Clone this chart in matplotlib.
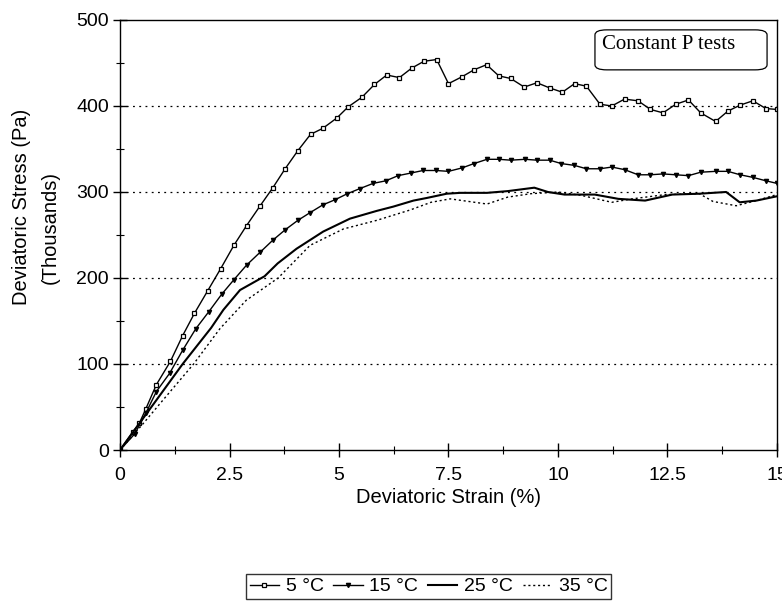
import matplotlib
matplotlib.use("Agg")
import matplotlib.pyplot as plt
from matplotlib.patches import FancyBboxPatch
from matplotlib.ticker import MultipleLocator, FuncFormatter

# deviatoric strain (%) / deviatoric stress (thousands Pa)
strain_5 = [0, 0.29, 0.44, 0.59, 0.83, 1.15, 1.43, 1.70, 2.0, 2.3, 2.6, 2.89, 3.2, 3.49,
            3.77, 4.06, 4.35, 4.63, 4.95, 5.21, 5.52, 5.81, 6.09, 6.38, 6.66, 6.94, 7.23,
            7.50, 7.81, 8.08, 8.37, 8.65, 8.92, 9.23, 9.52, 9.81, 10.10, 10.38, 10.65,
            10.96, 11.23, 11.52, 11.83, 12.11, 12.40, 12.69, 12.98, 13.26, 13.60, 13.88,
            14.16, 14.45, 14.75, 15.0]
stress_5 = [0, 21, 31, 48, 76, 103, 133, 159, 185, 211, 238, 261, 284, 305,
            327, 348, 367, 374, 386, 399, 410, 425, 436, 433, 444, 452, 454,
            426, 434, 442, 448, 435, 432, 422, 427, 421, 416, 426, 423,
            402, 400, 408, 406, 396, 392, 402, 407, 392, 382, 394,
            401, 406, 397, 396]

strain_15 = [0, 0.34, 0.59, 0.83, 1.13, 1.43, 1.73, 2.03, 2.32, 2.60, 2.89, 3.2, 3.49,
             3.77, 4.06, 4.34, 4.63, 4.91, 5.19, 5.48, 5.78, 6.07, 6.35, 6.64, 6.92, 7.21,
             7.50, 7.81, 8.08, 8.38, 8.65, 8.92, 9.25, 9.52, 9.81, 10.08, 10.37, 10.65,
             10.96, 11.23, 11.52, 11.83, 12.11, 12.40, 12.69, 12.98, 13.26, 13.60, 13.88,
             14.16, 14.45, 14.75, 15.0]
stress_15 = [0, 19, 43, 68, 89, 116, 141, 161, 181, 198, 215, 230, 244,
             256, 267, 276, 285, 291, 298, 304, 310, 313, 319, 322, 325, 325,
             324, 328, 333, 338, 338, 337, 338, 337, 337, 333, 331, 327,
             327, 329, 326, 320, 320, 321, 320, 319, 323, 324, 324,
             320, 317, 313, 310]

strain_25 = [0, 0.4, 0.83, 1.43, 2.08, 2.36, 2.74, 3.3, 3.6, 4.03, 4.64, 5.25, 5.86, 6.24,
             6.70, 7.0, 7.46, 7.77, 8.38, 8.85, 9.46, 9.77, 10.15, 10.84, 11.38, 11.99,
             12.61, 13.23, 13.84, 14.15, 14.53, 15.0]
stress_25 = [0, 28, 58, 100, 142, 163, 186, 202, 217, 234, 254, 269, 278, 283,
             290, 293, 298, 299, 299, 301, 305, 300, 297, 297, 292, 290,
             297, 298, 300, 288, 290, 295]

strain_35 = [0, 0.5, 0.98, 1.68, 2.28, 2.88, 3.61, 4.34, 5.10, 5.86, 6.62, 7.1, 7.54,
             8.38, 8.85, 9.38, 10.0, 10.54, 11.23, 11.69, 12.46, 13.23, 13.54, 14.07,
             14.53, 15.0]
stress_35 = [0, 29, 58, 100, 141, 174, 200, 238, 257, 267, 279, 288, 292,
             286, 294, 298, 300, 296, 288, 292, 297, 298, 289, 284,
             290, 297]

labels = ['5 °C', '15 °C', '25 °C', '35 °C']
gridlines = [100, 200, 300, 400]

plt.rcParams['font.family'] = ['Liberation Sans', 'DejaVu Sans']

fig = plt.figure(figsize=(7.82, 6.11), dpi=100)
ax = fig.add_axes([0.1535, 0.2635, 0.84, 0.7038])

ax.plot(strain_5, stress_5, color='black', lw=1.0, marker='s', ms=3.5,
        mfc='white', mec='black', mew=0.9, label=labels[0])
ax.plot(strain_15, stress_15, color='black', lw=1.0, marker='v', ms=3,
        mfc='black', mec='black', label=labels[1])
ax.plot(strain_25, stress_25, color='black', lw=1.5, label=labels[2])
ax.plot(strain_35, stress_35, color='black', lw=1.0, ls=(0, (1.5, 2.0)), label=labels[3])

for yv in gridlines:
    ax.axhline(yv, color='black', lw=0.9, ls=(0, (1.5, 3.5)), zorder=0)

ax.set_xlim(0, 15)
ax.set_ylim(0, 500)
ax.xaxis.set_major_locator(MultipleLocator(2.5))
ax.xaxis.set_minor_locator(MultipleLocator(1.25))
ax.yaxis.set_major_locator(MultipleLocator(100))
ax.yaxis.set_minor_locator(MultipleLocator(50))
ax.xaxis.set_major_formatter(FuncFormatter(lambda v, p: f'{v:g}'))
ax.tick_params(which='major', direction='inout', length=10, width=1, labelsize=14)
ax.tick_params(which='minor', direction='inout', length=6, width=0.8)
ax.tick_params(axis='x', pad=7)
ax.tick_params(axis='y', pad=3)

for s in ax.spines.values():
    s.set_linewidth(1.0)

ax.set_xlabel('Deviatoric Strain (%)', fontsize=14.5, labelpad=3)
fig.text(0.028, 0.661, 'Deviatoric Stress (Pa)', rotation=90, fontsize=14.5,
         ha='center', va='center')
fig.text(0.064, 0.627, '(Thousands)', rotation=90, fontsize=14.5,
         ha='center', va='center')

box = FancyBboxPatch((0.723, 0.884), 0.262, 0.093, transform=ax.transAxes,
                     boxstyle='round,pad=0,rounding_size=0.018', fc='white',
                     ec='black', lw=0.9, mutation_aspect=0.65)
ax.add_patch(box)
ax.text(0.734, 0.942, 'Constant P tests', transform=ax.transAxes, ha='left',
        va='center', fontsize=15, family='Liberation Serif')

leg = fig.legend(loc='center', bbox_to_anchor=(0.548, 0.04), ncol=4, fontsize=14,
                 frameon=True, fancybox=False, edgecolor='black', handlelength=1.5,
                 handletextpad=0.35, columnspacing=0.5, borderpad=0.2)
leg.get_frame().set_linewidth(1.0)

fig.savefig('out.png', dpi=100)
